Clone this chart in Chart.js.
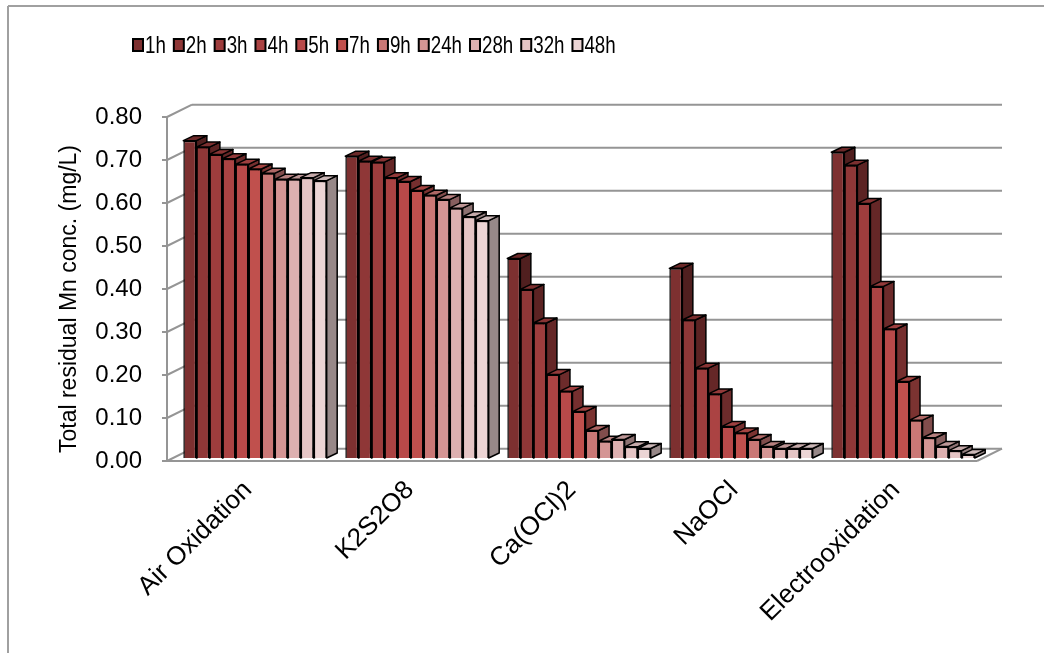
<!DOCTYPE html>
<html>
<head>
<meta charset="utf-8">
<script src="https://cdn.jsdelivr.net/npm/chart.js@4.4.0/dist/chart.umd.min.js"></script>
<style>
  html, body { margin: 0; padding: 0; background: #fff; }
  canvas { display: block; }
</style>
</head>
<body>
<canvas id="myChart" width="1044" height="653"></canvas>
<script>
var methods = ['Air Oxidation', 'K2S2O8', 'Ca(OCl)2', 'NaOCl', 'Electrooxidation'];
var times = ['1h', '2h', '3h', '4h', '5h', '7h', '9h', '24h', '28h', '32h', '48h'];

// residual Mn (mg/L) per contact time, one value per method
var mn1h  = [0.738, 0.702, 0.464, 0.441, 0.711];
var mn2h  = [0.723, 0.690, 0.392, 0.321, 0.681];
var mn3h  = [0.706, 0.688, 0.314, 0.209, 0.592];
var mn4h  = [0.696, 0.652, 0.194, 0.149, 0.399];
var mn5h  = [0.683, 0.643, 0.155, 0.073, 0.300];
var mn7h  = [0.672, 0.622, 0.108, 0.058, 0.178];
var mn9h  = [0.662, 0.611, 0.064, 0.043, 0.088];
var mn24h = [0.648, 0.601, 0.039, 0.027, 0.047];
var mn28h = [0.648, 0.581, 0.043, 0.022, 0.027];
var mn32h = [0.652, 0.561, 0.026, 0.022, 0.017];
var mn48h = [0.645, 0.552, 0.022, 0.022, 0.008];

var yTicks = [0, 0.1, 0.2, 0.3, 0.4, 0.5, 0.6, 0.7, 0.8];
var yTitle = 'Total residual Mn conc. (mg/L)';

var series = [mn1h, mn2h, mn3h, mn4h, mn5h, mn7h, mn9h, mn24h, mn28h, mn32h, mn48h];
var colors = ['#7d3030', '#8f3737', '#9e3d3d', '#ab4343', '#b84949', '#c0504d',
              '#ca7876', '#d49594', '#ddb0b0', '#e5c5c5', '#ecd5d5'];

var gridColor = '#959595';
var wallDx = 25, wallDy = 12.3;   // depth of the back wall
var barDx = 7, barDy = -3;        // bars sit a little behind the front edge
var depthDx = 10.5, depthDy = 5;  // depth of each column

var font = '"Liberation Sans", Arial, sans-serif';

function shade(hex, f) {
  var n = parseInt(hex.slice(1), 16);
  var r = Math.round(((n >> 16) & 255) * f);
  var g = Math.round(((n >> 8) & 255) * f);
  var b = Math.round((n & 255) * f);
  return 'rgb(' + r + ',' + g + ',' + b + ')';
}

function line(ctx, x1, y1, x2, y2) {
  ctx.beginPath();
  ctx.moveTo(x1, y1);
  ctx.lineTo(x2, y2);
  ctx.stroke();
}

var datasets = [];
for (var i = 0; i < times.length; i++) {
  datasets.push({
    label: times[i],
    data: series[i],
    backgroundColor: colors[i],
    borderColor: '#000',
    borderWidth: 1.5
  });
}

// walls, floor and the top/side faces of the columns
var boxPlugin = {
  id: 'box3d',
  beforeDatasetsDraw: function (chart) {
    var ctx = chart.ctx;
    var area = chart.chartArea;
    var ys = chart.scales.y;

    ctx.save();
    ctx.strokeStyle = '#a0a0a0';
    ctx.lineWidth = 2;
    line(ctx, 8, 6, 1044, 6);
    line(ctx, 8, 6, 8, 653);

    ctx.strokeStyle = gridColor;
    for (var t = 0; t < yTicks.length; t++) {
      var py = ys.getPixelForValue(yTicks[t]);
      line(ctx, area.left - 5, py, area.left, py);
      line(ctx, area.left, py, area.left + wallDx, py - wallDy);
      line(ctx, area.left + wallDx, py - wallDy, area.right + wallDx, py - wallDy);
    }
    line(ctx, area.left, ys.getPixelForValue(0.8), area.left, ys.getPixelForValue(0));
    var p0 = ys.getPixelForValue(0);
    line(ctx, area.left - 5, p0, area.right, p0);
    line(ctx, area.right, p0, area.right + wallDx, p0 - wallDy);

    // axis title
    ctx.fillStyle = '#000';
    ctx.font = '23px ' + font;
    ctx.textAlign = 'center';
    ctx.textBaseline = 'middle';
    ctx.translate(70, 299);
    ctx.rotate(-Math.PI / 2);
    ctx.fillText(yTitle, 0, 0);
    ctx.restore();

    ctx.save();
    ctx.translate(barDx, barDy);
    var bars = [];
    chart.data.datasets.forEach(function (ds, di) {
      chart.getDatasetMeta(di).data.forEach(function (el) {
        var p = el.getProps(['x', 'y', 'base', 'width'], true);
        bars.push({ p: p, color: ds.backgroundColor });
      });
    });
    bars.sort(function (a, b) { return a.p.x - b.p.x; });
    ctx.lineWidth = 1.5;
    ctx.strokeStyle = '#000';
    ctx.lineJoin = 'round';
    bars.forEach(function (b) {
      var l = b.p.x - b.p.width / 2, r = b.p.x + b.p.width / 2;
      var top = b.p.y, bot = b.p.base;
      // side
      ctx.beginPath();
      ctx.moveTo(r, top);
      ctx.lineTo(r + depthDx, top - depthDy);
      ctx.lineTo(r + depthDx, bot - depthDy);
      ctx.lineTo(r, bot);
      ctx.closePath();
      ctx.fillStyle = shade(b.color, 0.64);
      ctx.fill();
      ctx.stroke();
      // top
      ctx.beginPath();
      ctx.moveTo(l, top);
      ctx.lineTo(l + depthDx, top - depthDy);
      ctx.lineTo(r + depthDx, top - depthDy);
      ctx.lineTo(r, top);
      ctx.closePath();
      ctx.fillStyle = shade(b.color, 0.86);
      ctx.fill();
      ctx.stroke();
    });
  },
  afterDatasetsDraw: function (chart) {
    chart.ctx.restore();
  }
};

// legend row across the top, with slightly condensed text
var legendPlugin = {
  id: 'topLegend',
  afterDraw: function (chart) {
    var ctx = chart.ctx;
    ctx.save();
    ctx.font = '24px ' + font;
    ctx.textBaseline = 'middle';
    var squeeze = 0.78;
    var x = 133, yc = 45;
    chart.data.datasets.forEach(function (ds) {
      ctx.fillStyle = ds.backgroundColor;
      ctx.fillRect(x, yc - 6, 10, 12);
      ctx.strokeStyle = '#000';
      ctx.lineWidth = 2;
      ctx.strokeRect(x, yc - 6, 10, 12);
      ctx.fillStyle = '#000';
      ctx.save();
      ctx.translate(x + 12, yc + 1);
      ctx.scale(squeeze, 1);
      ctx.fillText(ds.label, 0, 0);
      ctx.restore();
      x += 12 + ctx.measureText(ds.label).width * squeeze + 8;
    });
    ctx.restore();
  }
};

const config = {
  type: 'bar',
  data: {
    labels: methods,
    datasets: datasets
  },
  options: {
    responsive: false,
    animation: false,
    devicePixelRatio: 1,
    categoryPercentage: 0.885,
    barPercentage: 1,
    layout: { padding: { left: 0, right: 67, top: 117, bottom: 0 } },
    plugins: {
      legend: { display: false },
      tooltip: { enabled: false }
    },
    scales: {
      x: {
        grid: { display: false, drawTicks: false },
        border: { display: false },
        ticks: {
          color: '#000',
          font: { family: font, size: 26 },
          maxRotation: 45,
          minRotation: 45,
          autoSkip: false,
          padding: 14
        },
        afterFit: function (s) { s.height = 192; }
      },
      y: {
        min: 0,
        max: 0.8,
        grid: { display: false, drawTicks: false },
        border: { display: false },
        ticks: {
          stepSize: 0.1,
          color: '#000',
          font: { family: font, size: 24 },
          padding: 25,
          callback: function (v) { return v.toFixed(2); }
        },
        afterFit: function (s) { s.width = 167; }
      }
    }
  },
  plugins: [boxPlugin, legendPlugin]
};

const myChart = new Chart(document.getElementById('myChart'), config);
</script>
</body>
</html>
